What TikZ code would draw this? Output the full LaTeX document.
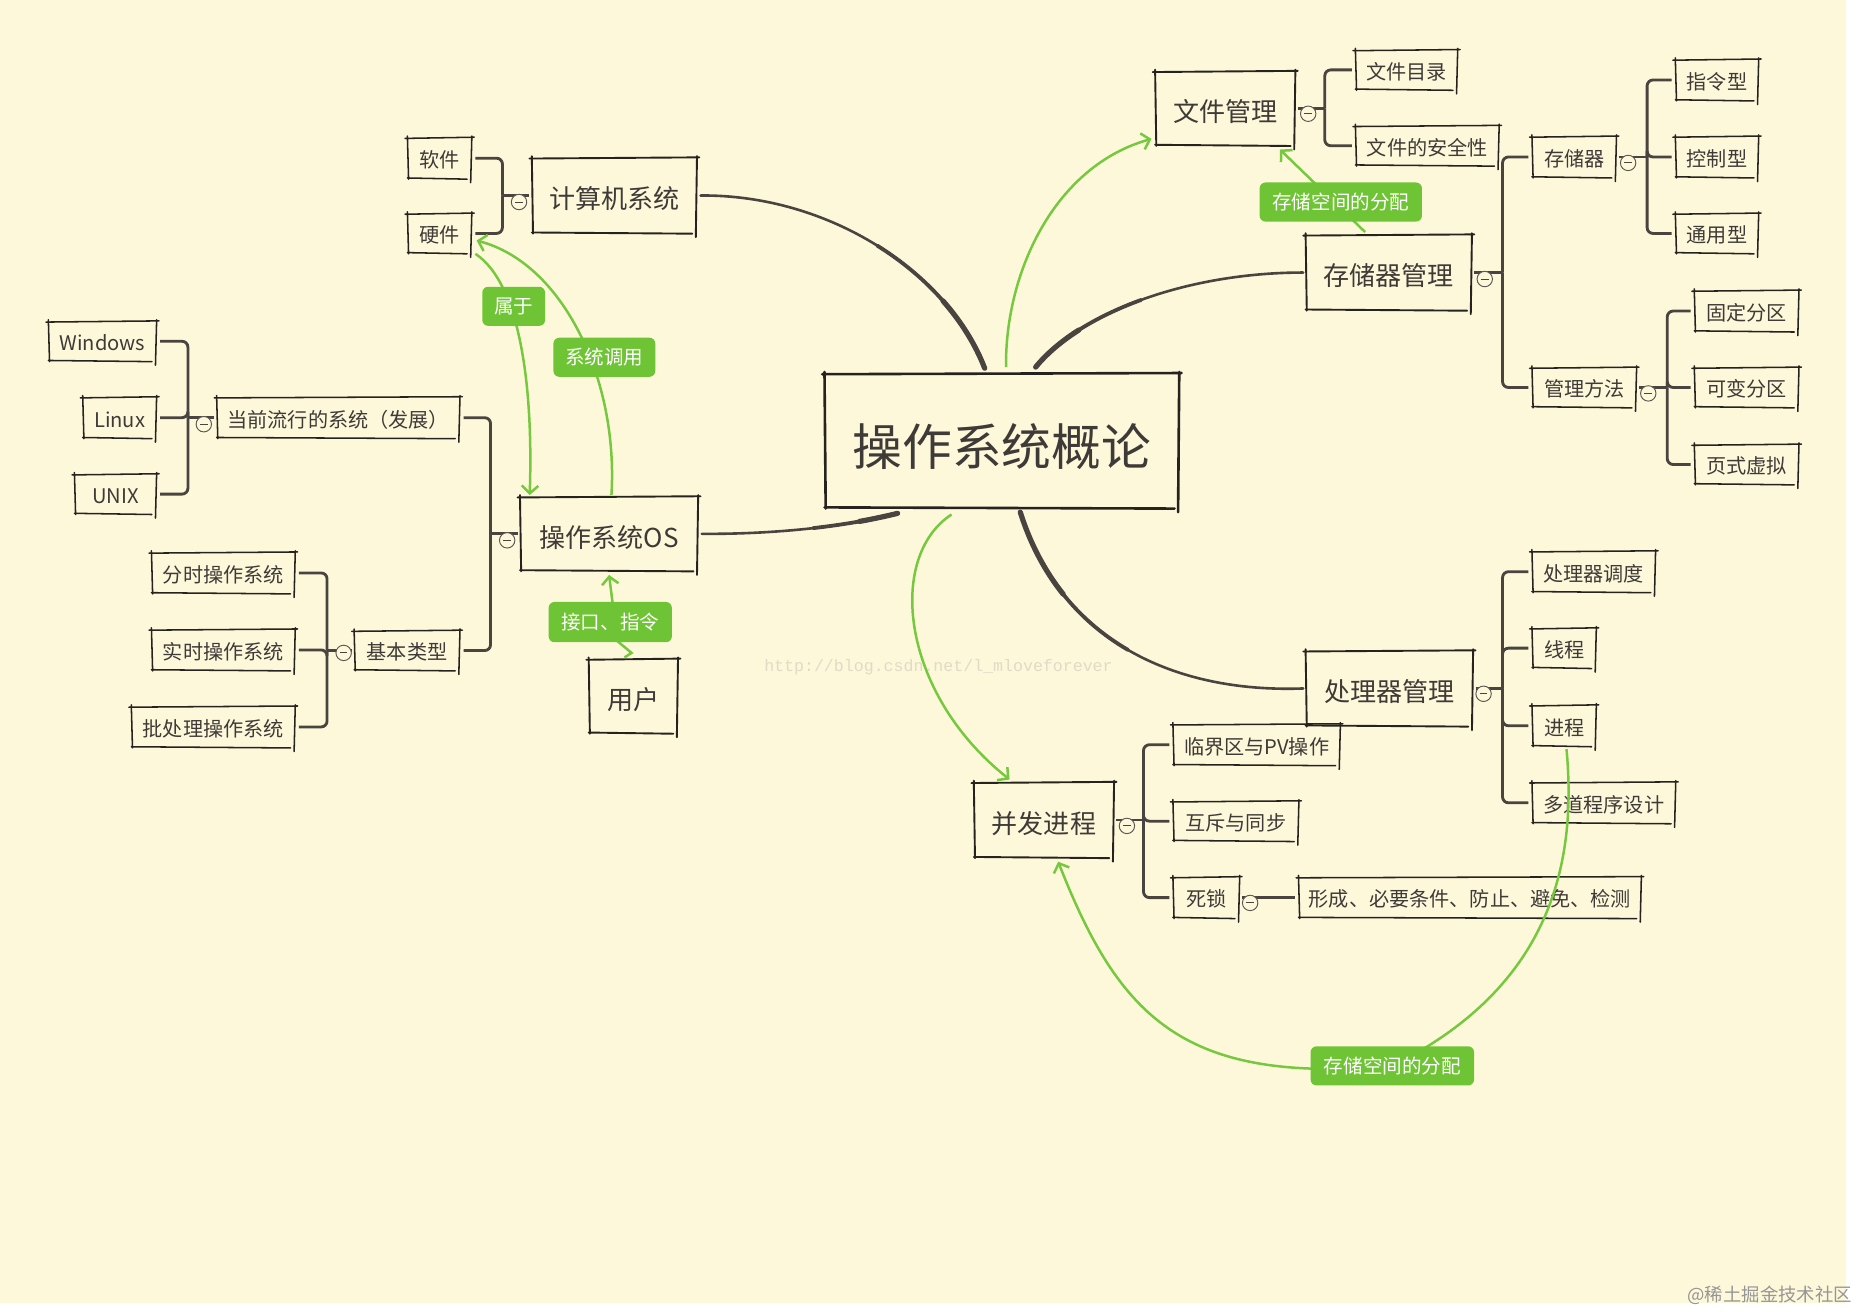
\documentclass[tikz,border=0pt]{standalone}
\usepackage{fontspec}
\setmainfont{Noto Sans CJK SC}
\newfontfamily\wmfont{Liberation Mono}
\usetikzlibrary{arrows.meta}
\definecolor{cream}{RGB}{253,248,218}
\definecolor{inkc}{RGB}{38,34,32}
\definecolor{txtc}{RGB}{62,58,55}
\definecolor{linec}{RGB}{74,68,64}
\definecolor{grn}{RGB}{110,196,52}
\definecolor{grnl}{RGB}{118,200,62}
\definecolor{wmc}{RGB}{224,219,198}
\definecolor{wmb}{RGB}{150,150,150}

\newcommand\skbox[2]{%
 \draw[inkc, line width=#1pt, line cap=round]
  ([xshift=-2pt]#2.north west) -- ([xshift=2pt,yshift=1pt]#2.north east)
  ([yshift=2pt]#2.north east) -- ([xshift=-1pt,yshift=-4pt]#2.south east)
  ([xshift=-4pt,yshift=-1pt]#2.south east) -- (#2.south west)
  ([xshift=1pt,yshift=-1pt]#2.south west) -- ([yshift=2pt]#2.north west);
}

\tikzset{
 box/.style={fill=cream, inner sep=0pt, text=txtc, align=center},
 bigf/.style={font=\fontsize{42}{48}\selectfont, text height=45pt, text depth=3pt},
 midf/.style={font=\fontsize{22}{26}\selectfont, text height=24pt, text depth=1.5pt},
 smlf/.style={font=\fontsize{17}{20}\selectfont, text height=17pt, text depth=1.2pt},
 glabel/.style={fill=grn, rounded corners=5pt, text=white, inner sep=0pt, font=\fontsize{16.5}{20}\selectfont},
 br/.style={draw=linec, line width=2.4pt, rounded corners=5pt, shorten >=3pt},
 brp/.style={draw=linec, line width=2.4pt},
 mainln/.style={draw=linec, line width=2.2pt, line cap=round},
 mainmid/.style={draw=linec, line width=3.2pt, line cap=round},
 mainend/.style={draw=linec, line width=4.4pt, line cap=round},
 garrow/.style={draw=grnl, line width=2.1pt, -{Straight Barb[length=6.5pt,width=14pt]}},
 mnode/.style={circle, draw=linec!90, line width=0.8pt, fill=cream, minimum size=13pt, inner sep=0pt,
   path picture={\draw[linec, line width=0.8pt] ([xshift=-3.2pt]path picture bounding box.center) -- ([xshift=3.2pt]path picture bounding box.center);}},
}

\begin{document}
\begin{tikzpicture}[x=1pt,y=-1pt]
\useasboundingbox (0,0) rectangle (1568,1107);
\fill[white] (0,0) rectangle (1568,1107);
\fill[cream] (0,0) rectangle (1558,1100);

% watermark
\node[font=\wmfont\fontsize{14}{14}\selectfont, text=wmc] (wm) at (792,563) {http://blog.csdn.net/l\_mloveforever};

% central
\node[box, bigf, minimum width=299pt, minimum height=112pt] (c) at (845.5,372) {操作系统概论};

% left top
\node[box, midf, minimum width=139pt, minimum height=62pt] (jsj) at (518.5,165) {计算机系统};
\node[box, smlf, minimum width=54pt, minimum height=33pt] (rj) at (371,133.5) {软件};
\node[box, smlf, minimum width=54pt, minimum height=32pt] (yj) at (371,197) {硬件};

% left OS
\node[box, midf, minimum width=150pt, minimum height=61pt] (os) at (514,450.5) {操作系统OS};
\node[box, midf, minimum width=75pt, minimum height=61pt] (yh) at (534.5,587.5) {用户};
\node[box, smlf, minimum width=205pt, minimum height=33pt] (dq) at (285.5,352.5) {当前流行的系统（发展）};
\node[box, smlf, minimum width=91pt, minimum height=32pt] (win) at (86.5,288) {Windows};
\node[box, smlf, minimum width=62pt, minimum height=33pt] (linux) at (101,352.5) {Linux};
\node[box, smlf, minimum width=69pt, minimum height=32pt] (unix) at (97.5,417) {UNIX};
\node[box, smlf, minimum width=89pt, minimum height=32pt] (jb) at (343.5,549) {基本类型};
\node[box, smlf, minimum width=121pt, minimum height=33pt] (fs) at (188.5,483.5) {分时操作系统};
\node[box, smlf, minimum width=121pt, minimum height=33pt] (ss) at (188.5,548.5) {实时操作系统};
\node[box, smlf, minimum width=138pt, minimum height=33pt] (pcl) at (180,613.5) {批处理操作系统};

% right top
\node[box, midf, minimum width=118pt, minimum height=61pt] (wjgl) at (1034,91.5) {文件管理};
\node[box, smlf, minimum width=86pt, minimum height=32pt] (wjml) at (1187,59) {文件目录};
\node[box, smlf, minimum width=121pt, minimum height=32pt] (aqx) at (1204.5,123) {文件的安全性};
\node[box, midf, minimum width=140pt, minimum height=62pt] (cc) at (1172,230) {存储器管理};
\node[box, smlf, minimum width=71pt, minimum height=33pt] (ccq) at (1328.5,132.5) {存储器};
\node[box, smlf, minimum width=70pt, minimum height=33pt] (zl) at (1449,67.5) {指令型};
\node[box, smlf, minimum width=70pt, minimum height=33pt] (kz) at (1449,132.5) {控制型};
\node[box, smlf, minimum width=70pt, minimum height=32pt] (ty) at (1449,197) {通用型};
\node[box, smlf, minimum width=88pt, minimum height=32pt] (glff) at (1337,327) {管理方法};
\node[box, smlf, minimum width=88pt, minimum height=33pt] (gd) at (1474,262.5) {固定分区};
\node[box, smlf, minimum width=88pt, minimum height=32pt] (kb) at (1474,327) {可变分区};
\node[box, smlf, minimum width=88pt, minimum height=32pt] (ys) at (1474,392) {页式虚拟};

% right bottom
\node[box, midf, minimum width=141pt, minimum height=62pt] (cl) at (1172.5,581) {处理器管理};
\node[box, smlf, minimum width=104pt, minimum height=33pt] (cld) at (1345,482.5) {处理器调度};
\node[box, smlf, minimum width=54pt, minimum height=32pt] (xc) at (1320,547) {线程};
\node[box, smlf, minimum width=54pt, minimum height=33pt] (jc) at (1320,612.5) {进程};
\node[box, smlf, minimum width=121pt, minimum height=33pt] (dd) at (1353.5,677.5) {多道程序设计};

\node[box, midf, minimum width=118pt, minimum height=62pt] (bf) at (881,692) {并发进程};
\node[box, smlf, minimum width=141pt, minimum height=33pt] (ljq) at (1060.5,628.5) {临界区与PV操作};
\node[box, smlf, minimum width=106pt, minimum height=32pt] (hc) at (1043,693) {互斥与同步};
\node[box, smlf, minimum width=56pt, minimum height=33pt] (sisuo) at (1018,757.5) {死锁};
\node[box, smlf, minimum width=289pt, minimum height=33pt] (xcheng) at (1240.5,757.5) {形成、必要条件、防止、避免、检测};

% sketch borders
\skbox{2.2}{c}
\foreach \n in {jsj,os,yh,wjgl,cc,cl,bf}{\skbox{1.6}{\n}}
\foreach \n in {rj,yj,dq,win,linux,unix,jb,fs,ss,pcl,wjml,aqx,ccq,zl,kz,ty,glff,gd,kb,ys,cld,xc,jc,dd,ljq,hc,sisuo,xcheng}{\skbox{1.3}{\n}}

% joints
\coordinate (jjsj) at (424,165);
\coordinate (jos) at (414,450.5);
\coordinate (jdq) at (158.6,352.5);
\coordinate (jjb) at (276,549);
\coordinate (jw) at (1118,91.5);
\coordinate (jcc) at (1268,230);
\coordinate (jccq) at (1390,132.5);
\coordinate (jgl) at (1407,327);
\coordinate (jcl) at (1268,581);
\coordinate (jbf) at (965,692);

% brackets (left)
\draw[brp] ([xshift=-2pt]jsj.west) -- (jjsj);
\foreach \n in {rj,yj}{\draw[br] (jjsj) |- (\n.east);}
\draw[brp] ([xshift=-2pt]os.west) -- (jos);
\foreach \n in {dq,jb}{\draw[br] (jos) |- (\n.east);}
\draw[brp] ([xshift=-2pt]dq.west) -- (jdq);
\foreach \n in {win,linux,unix}{\draw[br] (jdq) |- (\n.east);}
\draw[brp] ([xshift=-2pt]jb.west) -- (jjb);
\foreach \n in {fs,ss,pcl}{\draw[br] (jjb) |- (\n.east);}
% brackets (right)
\draw[brp] ([xshift=2pt]wjgl.east) -- (jw);
\foreach \n in {wjml,aqx}{\draw[br] (jw) |- (\n.west);}
\draw[brp] ([xshift=2pt]cc.east) -- (jcc);
\foreach \n in {ccq,glff}{\draw[br] (jcc) |- (\n.west);}
\draw[brp] ([xshift=2pt]ccq.east) -- (jccq);
\foreach \n in {zl,kz,ty}{\draw[br] (jccq) |- (\n.west);}
\draw[brp] ([xshift=2pt]glff.east) -- (jgl);
\foreach \n in {gd,kb,ys}{\draw[br] (jgl) |- (\n.west);}
\draw[brp] ([xshift=2pt]cl.east) -- (jcl);
\foreach \n in {cld,xc,jc,dd}{\draw[br] (jcl) |- (\n.west);}
\draw[brp] ([xshift=2pt]bf.east) -- (jbf);
\foreach \n in {ljq,hc,sisuo}{\draw[br] (jbf) |- (\n.west);}
\draw[brp, shorten >=3pt] ([xshift=2pt]sisuo.east) -- (xcheng.west);

% main connectors (tapered toward the centre)
\draw[mainln] ([xshift=3pt]jsj.east) .. controls (700,164) and (800,230) .. ([xshift=-14.5pt,yshift=5pt]c.north);
\draw[mainmid] (740.25,207.25) .. controls (782.75,233.75) and (815.5,270.5) .. ([xshift=-14.5pt,yshift=5pt]c.north);
\draw[mainend] (795.75,253.875) .. controls (811.19,271.44) and (823.25,290.75) .. ([xshift=-14.5pt,yshift=5pt]c.north);

\draw[mainln] ([xshift=3pt]os.east) .. controls (660,451) and (720,443) .. ([xshift=-88pt,yshift=-5pt]c.south);
\draw[mainmid] (686.19,445.69) .. controls (714.375,442.5) and (738.75,438) .. ([xshift=-88pt,yshift=-5pt]c.south);
\draw[mainend] (725.38,440.02) .. controls (737.34,437.875) and (748.125,435.5) .. ([xshift=-88pt,yshift=-5pt]c.south);

\draw[mainln] ([xshift=-2pt]cc.west) .. controls (1000,230) and (910,265) .. ([xshift=28.5pt,yshift=6pt]c.north);
\draw[mainmid] (963,253.125) .. controls (923.5,267.5) and (892,287.5) .. ([xshift=28.5pt,yshift=6pt]c.north);
\draw[mainend] (910.44,278.52) .. controls (895.375,288.125) and (883,298.75) .. ([xshift=28.5pt,yshift=6pt]c.north);

\draw[mainln] ([xshift=-2pt]cl.west) .. controls (990,585) and (895,540) .. ([xshift=15.5pt,yshift=-4pt]c.south);
\draw[mainmid] (952,548.5) .. controls (910.25,524.25) and (878,486) .. ([xshift=15.5pt,yshift=-4pt]c.south);
\draw[mainend] (897.22,501.41) .. controls (881.8125,482.0625) and (869.5,459) .. ([xshift=15.5pt,yshift=-4pt]c.south);

% collapse circles
\node[mnode] (m1) at (438,170.5) {};
\node[mnode] (m2) at (428,456) {};
\node[mnode] (m3) at (172,358) {};
\node[mnode] (m4) at (290,551) {};
\node[mnode] (m5) at (1104,96) {};
\node[mnode] (m6) at (1253,235.5) {};
\node[mnode] (m7) at (1374,137.5) {};
\node[mnode] (m8) at (1391,332) {};
\node[mnode] (m9) at (1252,585.5) {};
\node[mnode] (m10) at (951,697) {};
\node[mnode] (m11) at (1055,762) {};

% green relations
\draw[garrow] ([xshift=3.5pt,yshift=6pt]c.north) .. controls (848,230) and (890,140) .. ([xshift=-3pt,yshift=5pt]wjgl.south west);
\draw[garrow] ([xshift=-20pt,yshift=3pt]cc.north) -- ([xshift=-13pt,yshift=-4pt]wjgl.south east);
\draw[garrow] ([xshift=-42.5pt,yshift=-6pt]c.south) .. controls (748,470) and (760,585) .. ([xshift=-29pt,yshift=3pt]bf.north);
\draw[garrow] ([xshift=2pt,yshift=-3pt]jc.south) .. controls (1330,720) and (1315,830) .. (1175,899.5) .. controls (1000,915) and (945,860) .. ([xshift=12pt,yshift=-4pt]bf.south);
\draw[garrow] ([xshift=3pt,yshift=-1pt]yj.south east) .. controls (440,240) and (450,330) .. ([xshift=-67pt,yshift=2pt]os.north);
\draw[garrow] ([xshift=2pt,yshift=2pt]os.north) .. controls (522,320) and (475,222) .. ([xshift=4pt,yshift=-6pt]yj.east);
\draw[garrow] ([xshift=-7.5pt,yshift=2pt]yh.north) -- (533,551) -- (521,541) -- ([yshift=-4pt]os.south);

% green labels
\node[glabel, minimum width=53pt, minimum height=33pt] (lsy) at (433.5,258.5) {属于};
\node[glabel, minimum width=86pt, minimum height=33pt] (lxt) at (510,301.5) {系统调用};
\node[glabel, minimum width=104pt, minimum height=34pt] (ljk) at (515,525) {接口、指令};
\node[glabel, minimum width=137pt, minimum height=33pt] (lfp1) at (1131.5,170.5) {存储空间的分配};
\node[glabel, minimum width=138pt, minimum height=33pt] (lfp2) at (1175,899.5) {存储空间的分配};

% site watermark
\node[anchor=east, font=\fontsize{15.5}{16}\selectfont, text=wmb, inner sep=0pt] (wm2) at (1563,1093) {@稀土掘金技术社区};
\end{tikzpicture}
\end{document}
